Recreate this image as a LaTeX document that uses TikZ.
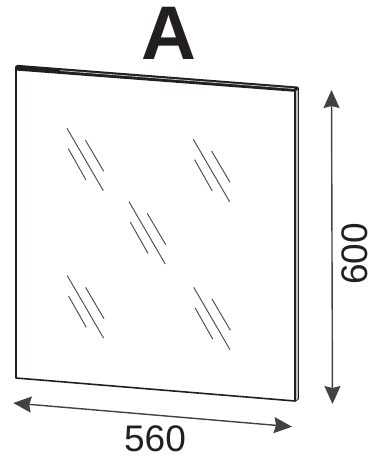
\documentclass[tikz,border=0pt]{standalone}
\usepackage{fontspec}
\usepackage{xcolor}
\setmainfont{Liberation Sans}
\usetikzlibrary{arrows.meta,positioning,calc}

\definecolor{inkdark}{HTML}{231F20}
\tikzset{
  edgeline/.style={line width=1.6pt, inkdark, line join=round},
  glassline/.style={line width=0.95pt, inkdark!80},
  dimline/.style={line width=1.4pt, inkdark!85, {Stealth[length=18pt,width=16pt,inset=2pt]}-{Stealth[length=18pt,width=16pt,inset=2pt]}},
  dimlabel/.style={font=\fontsize{37}{37}\selectfont, text=inkdark, inner sep=0pt}
}

\begin{document}
\begin{tikzpicture}[x=1pt,y=-1pt]
\useasboundingbox (0,0) rectangle (371,459);

% Side of the panel
\fill[gray!50] (294,90) -- (298.5,87.5) -- (298.5,399) -- (294,401.5) -- cycle;

% Top edge
\fill[inkdark] (15,67) -- (17,64.8) -- (298,86.6) -- (299,88.5) -- (295,91.8) -- (15.5,70.5) -- cycle;
\draw[gray!40, line width=0.7pt] (60,70.6) -- (294,88.6);

% Front outline
\draw[edgeline] (16,67) -- (16,378) -- (295,401);
\draw[line width=2.6pt, inkdark] (295,90) -- (295,401);
\draw[line width=0.7pt, inkdark] (298.5,88) -- (298.5,399) -- (295,401.5);

% Glass marks
\foreach \gx/\gy in {0/0, 126.3/11, 62/73.4, 0.3/147.4, 126.7/159} {
  \begin{scope}[shift={(\gx,\gy)}]
    \draw[glassline] (67,128.3) -- (103.3,190.7);
    \draw[glassline] (68.3,148.7) -- (86,180);
    \draw[glassline] (85.3,140) -- (103.7,171.3);
  \end{scope}
}

% Dimensions
\coordinate (widthleft) at (13.3,403);
\coordinate (widthright) at (292,426.7);
\coordinate (heighttop) at (331.5,90);
\coordinate (heightbottom) at (332.5,404);
\draw[dimline] (widthleft) -- (widthright);
\draw[dimline] (heighttop) -- (heightbottom);

% Labels
\node[font=\fontsize{76}{76}\selectfont\bfseries, text=inkdark, inner sep=0pt] (title) at (169.2,33.5) {A};
\node[dimlabel] (widthlabel) at (155,439) {560};
\node[dimlabel, rotate=90] (heightlabel) at (355,254) {600};

\end{tikzpicture}
\end{document}
